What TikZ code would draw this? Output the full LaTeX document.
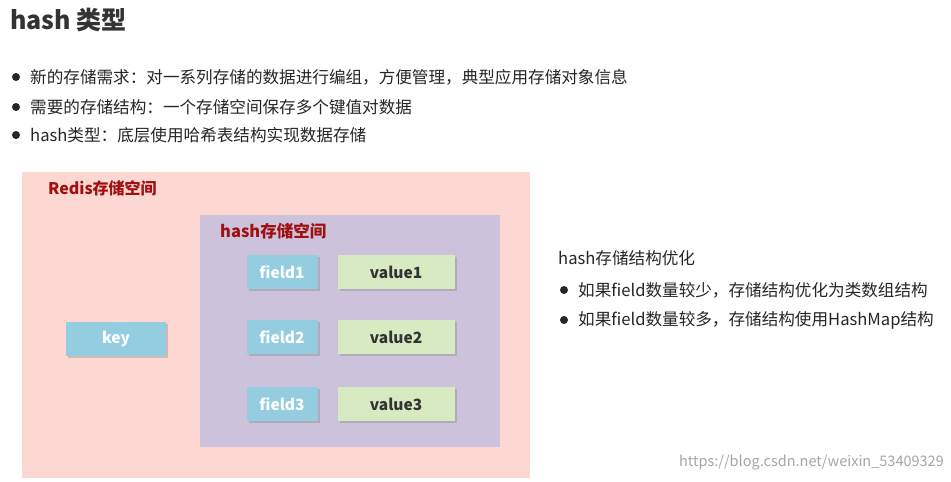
\documentclass[tikz,border=0pt]{standalone}
\usepackage{fontspec}
\setmainfont{Noto Sans CJK SC}
\usetikzlibrary{shadows}
\definecolor{pinkbg}{HTML}{FDD7D2}
\definecolor{purplebg}{HTML}{CCC2DC}
\definecolor{bluebox}{HTML}{93CDDF}
\definecolor{greenbox}{HTML}{D8EAC2}
\definecolor{darkred}{HTML}{A01010}
\tikzset{
  fbox/.style={fill=bluebox,minimum width=71pt,minimum height=34pt,font=\fontsize{15.5}{15.5}\selectfont\bfseries,text=white,drop shadow={opacity=0.35,shadow xshift=2pt,shadow yshift=-2pt}},
  vbox/.style={fill=greenbox,minimum width=117pt,minimum height=34pt,font=\fontsize{15.5}{15.5}\selectfont\bfseries,text=black!80,drop shadow={opacity=0.35,shadow xshift=2pt,shadow yshift=-2pt}},
  txt/.style={anchor=west,font=\fontsize{16.6}{16.6}\selectfont,text=black!85,inner sep=0pt},
  bul/.style={circle,fill=black!85,inner sep=0pt,minimum size=8pt}
}
\begin{document}
\begin{tikzpicture}[x=1pt,y=-1pt]
\useasboundingbox[fill=white] (0,0) rectangle (951,482);
\node[anchor=west,inner sep=0pt,font=\fontsize{25}{25}\selectfont\bfseries,text=black!80] (title) at (10,20) {hash 类型};
\node[bul] (b1) at (16,77) {}; \node[txt] (t1) at (30,77) {新的存储需求：对一系列存储的数据进行编组，方便管理，典型应用存储对象信息};
\node[bul] (b2) at (16,107) {}; \node[txt] (t2) at (30,107) {需要的存储结构：一个存储空间保存多个键值对数据};
\node[bul] (b3) at (16,135) {}; \node[txt] (t3) at (30,135) {hash类型：底层使用哈希表结构实现数据存储};
\fill[pinkbg] (22,172) rectangle (530,478);
\node[anchor=west,inner sep=0pt,font=\fontsize{16}{16}\selectfont\bfseries,text=darkred] (redis) at (48,188) {Redis存储空间};
\fill[purplebg] (200,215) rectangle (500,447);
\node[anchor=west,inner sep=0pt,font=\fontsize{16.5}{16.5}\selectfont\bfseries,text=darkred] (hs) at (220,231) {hash存储空间};
\node[fbox,minimum width=100pt] (key) at (116,339) {key};
\node[fbox] (f1) at (282,272) {field1};
\node[fbox] (f2) at (282,337) {field2};
\node[fbox] (f3) at (282,404) {field3};
\node[vbox] (v1) at (396,272) {value1};
\node[vbox] (v2) at (396,337) {value2};
\node[vbox] (v3) at (396,404) {value3};
\node[txt] (opt) at (558,258) {hash存储结构优化};
\node[bul] (b4) at (564,290) {}; \node[txt] (t4) at (578,290) {如果field数量较少，存储结构优化为类数组结构};
\node[bul] (b5) at (564,320) {}; \node[txt] (t5) at (578,320) {如果field数量较多，存储结构使用HashMap结构};
\node[anchor=east,inner sep=0pt,font=\fontsize{14.5}{14.5}\selectfont,text=black!35] (wm) at (944,463) {https://blog.csdn.net/weixin\_53409329};
\end{tikzpicture}
\end{document}
